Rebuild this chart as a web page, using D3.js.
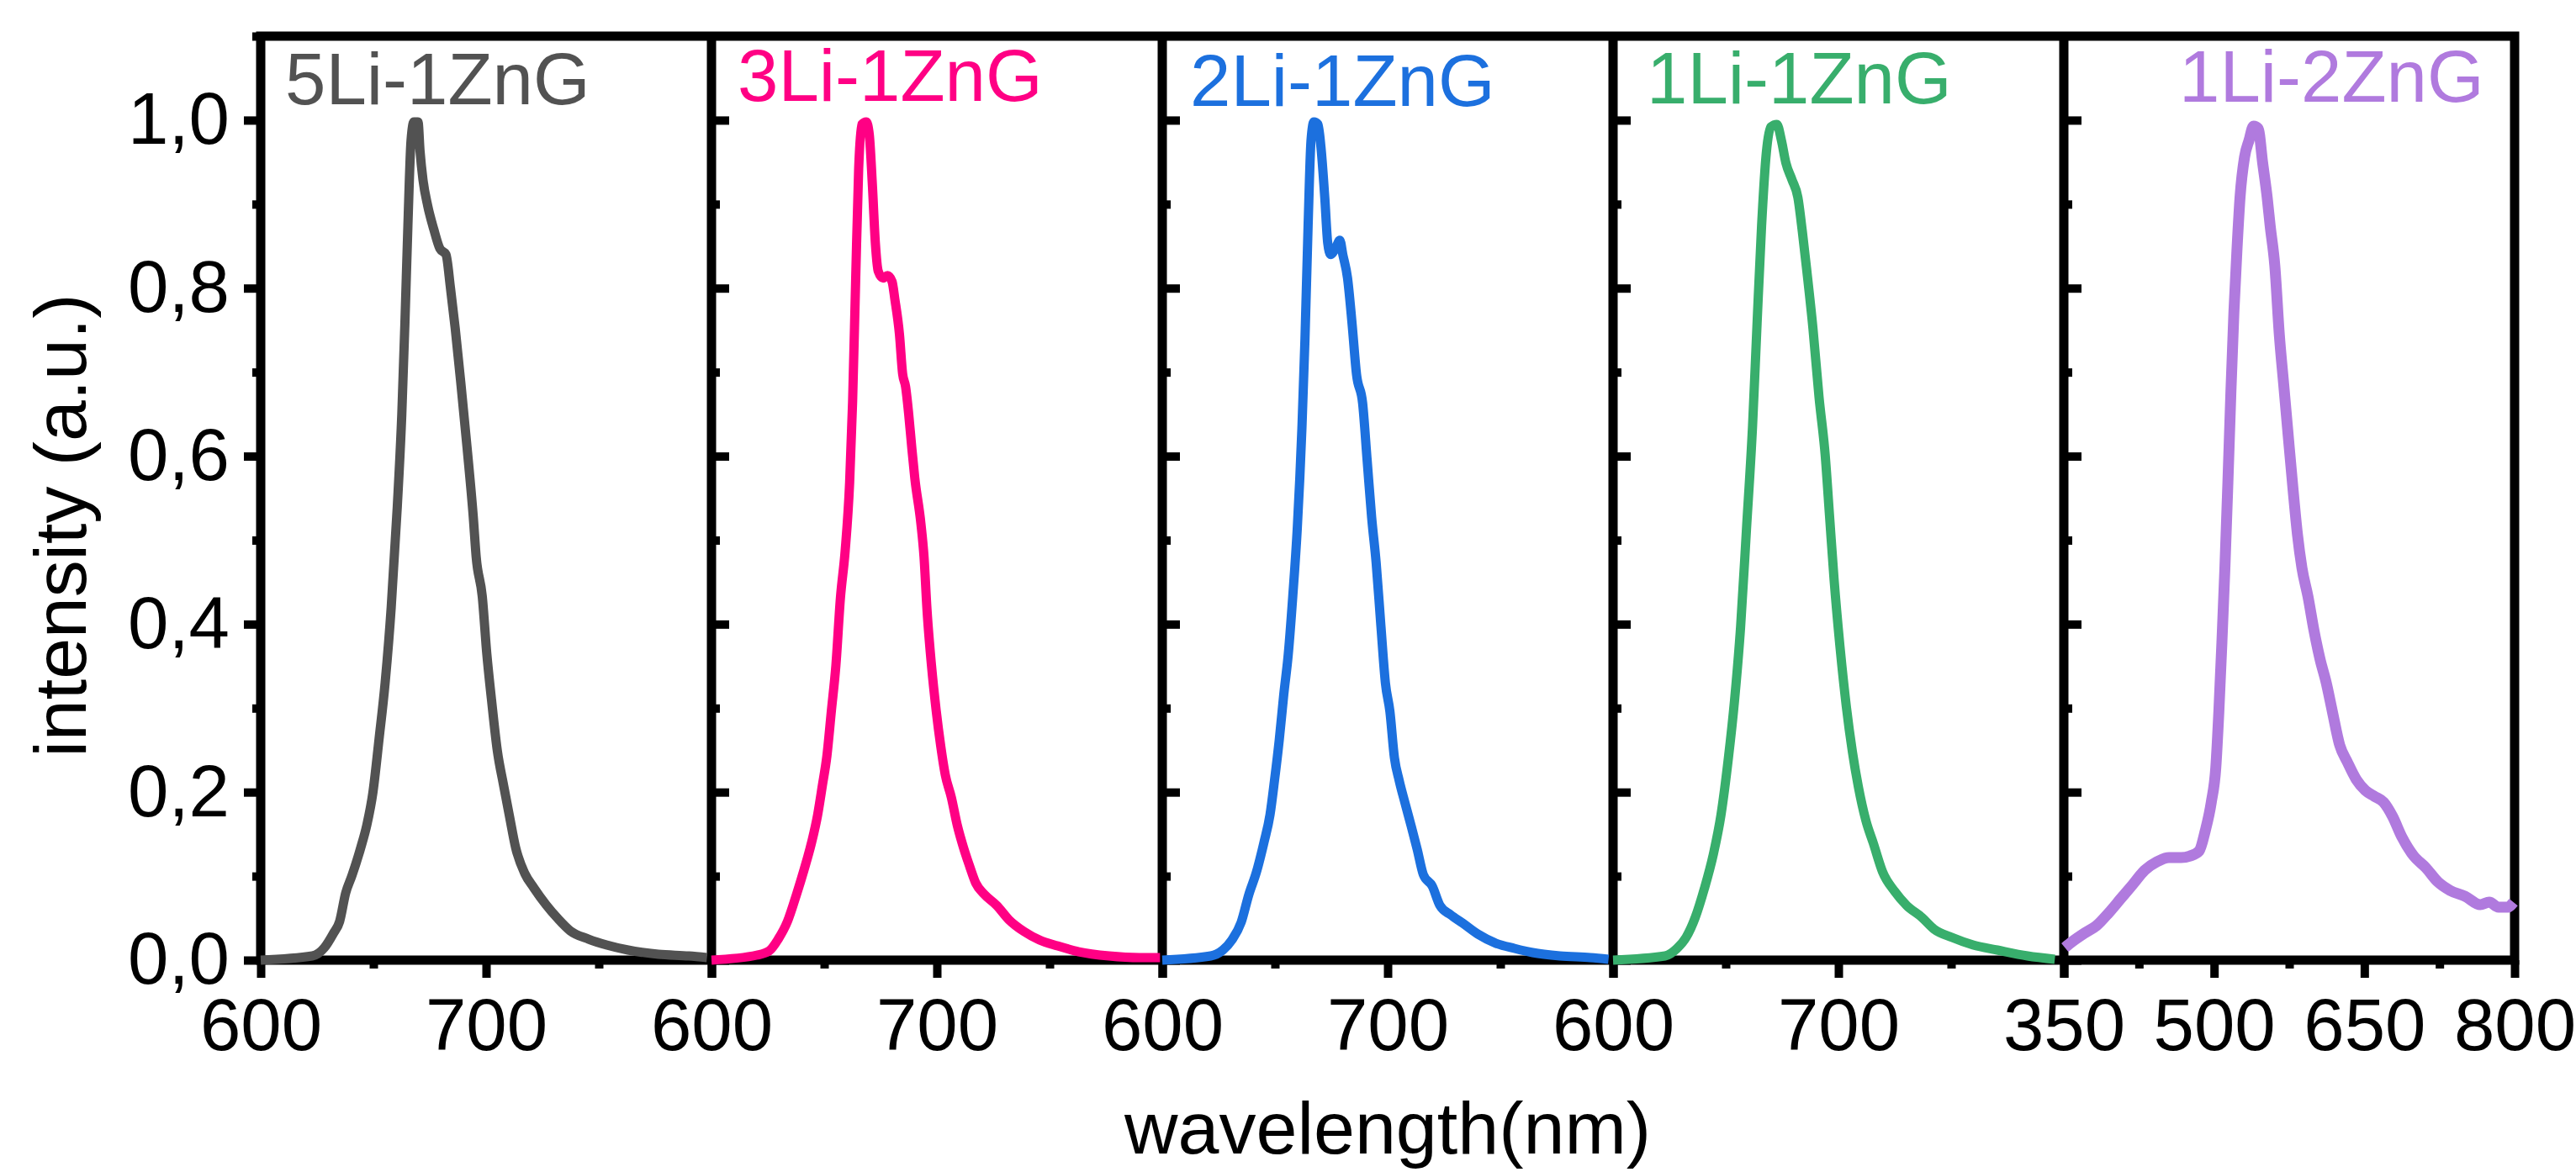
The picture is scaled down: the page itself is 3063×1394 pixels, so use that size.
<!DOCTYPE html>
<html lang="en">
<head>
<meta charset="utf-8">
<title>PL spectra, Li/Zn series</title>
<style>
  body { margin: 0; padding: 0; background: #fff; }
  svg { display: block; }
  text { font-family: "Liberation Sans", Arial, sans-serif; }
</style>
</head>
<body>
<div id="chart"></div>
<script src="https://cdn.jsdelivr.net/npm/d3@7"></script>
<script>
// ---- data (wavelength nm, normalised intensity) ----
var sampleNames = ['5Li-1ZnG', '3Li-1ZnG', '2Li-1ZnG', '1Li-1ZnG', '1Li-2ZnG'];

var s5Li1Zn = [[600,0],[622.9,0.005],[628.3,0.015],[632.3,0.032],[635,0.046],[637.7,0.08],[640.4,0.1],[644.4,0.134],[647.1,0.161],[649.8,0.2],[652.5,0.263],[655.2,0.33],[657.9,0.42],[660.6,0.54],[662.6,0.65],[664,0.76],[665.3,0.874],[666.7,0.976],[668,0.998],[669.8,0.998],[670.7,0.963],[672,0.929],[674.1,0.898],[676.8,0.87],[679.5,0.847],[682.2,0.84],[684.2,0.8],[686.3,0.752],[688.9,0.684],[691.6,0.609],[694.3,0.528],[695.6,0.48],[698.3,0.433],[700.3,0.365],[702.4,0.31],[705,0.249],[707.7,0.209],[710.4,0.171],[713.1,0.134],[717.2,0.103],[721.2,0.086],[726.6,0.066],[732,0.049],[737.3,0.035],[745.5,0.025],[753.5,0.018],[763,0.012],[776.4,0.007],[789.9,0.005],[798,0.003]];

var s3Li1Zn = [[600,0],[620.2,0.006],[625.6,0.011],[629.6,0.025],[633.7,0.046],[637.7,0.078],[641,0.107],[644.4,0.14],[647.1,0.173],[649.2,0.208],[651.2,0.243],[653.2,0.297],[655.2,0.351],[657.2,0.431],[659.3,0.487],[661.3,0.569],[662.6,0.664],[664,0.813],[665.3,0.942],[666.7,0.995],[668.7,0.998],[670,0.983],[671.4,0.922],[672.7,0.854],[674,0.82],[676.1,0.812],[678.1,0.815],[680.1,0.808],[681.4,0.786],[683.4,0.745],[684.8,0.698],[686.1,0.683],[687.5,0.65],[688.9,0.609],[690.2,0.574],[692.9,0.52],[694.3,0.48],[695.6,0.418],[697.6,0.351],[699.7,0.297],[701.7,0.255],[703.7,0.221],[706.4,0.194],[709.1,0.16],[711.8,0.134],[714.5,0.112],[717.2,0.092],[721.2,0.078],[726.6,0.065],[732,0.048],[738.7,0.034],[745.5,0.024],[753.5,0.017],[763,0.01],[776.4,0.005],[789.9,0.003],[799,0.003]];

var s2Li1Zn = [[600,0],[621.5,0.005],[626.9,0.012],[630.9,0.024],[635,0.045],[638.4,0.078],[641.8,0.105],[645.1,0.14],[647.8,0.173],[649.8,0.214],[651.9,0.262],[653.9,0.316],[655.9,0.364],[657.9,0.433],[659.9,0.514],[662,0.636],[663.3,0.738],[664.7,0.874],[666,0.976],[667.3,0.998],[669.1,0.995],[670.4,0.968],[672.1,0.908],[673.4,0.854],[674.7,0.84],[676.8,0.847],[678.8,0.857],[680.1,0.84],[682.2,0.812],[684.2,0.758],[686.2,0.697],[688.9,0.663],[690.9,0.595],[692.9,0.527],[694.9,0.473],[697,0.398],[699,0.33],[701,0.296],[703,0.241],[705.1,0.214],[707.7,0.187],[710.4,0.16],[713.1,0.132],[715.8,0.102],[719.8,0.088],[723.2,0.065],[727.9,0.054],[733.3,0.044],[740,0.031],[748.1,0.02],[756.2,0.014],[764.3,0.009],[776.4,0.005],[789.9,0.003],[798,0.001]];

var s1Li1Zn = [[600,0],[623.1,0.005],[628.4,0.014],[632.4,0.027],[636.5,0.051],[640.5,0.085],[644.5,0.126],[647.9,0.173],[651.2,0.241],[653.9,0.309],[656.6,0.397],[659.2,0.513],[661.9,0.636],[663.9,0.758],[665.9,0.874],[668,0.961],[670,0.992],[672.7,0.995],[674.7,0.976],[676.7,0.949],[679.4,0.929],[682,0.908],[684,0.867],[686,0.82],[688.7,0.752],[691.4,0.67],[694.1,0.602],[696.1,0.527],[698.1,0.452],[700.8,0.37],[703.5,0.302],[706.2,0.248],[708.8,0.207],[712.2,0.166],[715.5,0.139],[719.6,0.105],[724.9,0.082],[730.3,0.065],[737,0.051],[742.4,0.037],[750.4,0.027],[759.8,0.018],[770.5,0.012],[783.9,0.005],[796,0.001]];

var s1Li2Zn = [[351,0.015],[358.4,0.022],[370.5,0.032],[382.6,0.041],[394.6,0.056],[406.7,0.073],[418.8,0.09],[430.8,0.107],[442.9,0.117],[455,0.122],[467,0.122],[476.1,0.124],[485.1,0.13],[491.2,0.154],[497.2,0.188],[501.7,0.229],[504.8,0.297],[507.8,0.378],[510.8,0.467],[513.8,0.569],[516.8,0.677],[519.8,0.772],[522.9,0.847],[525.9,0.908],[530.4,0.956],[534.9,0.976],[539.4,0.993],[544,0.99],[548.5,0.949],[553,0.908],[556,0.874],[560.6,0.827],[565.1,0.745],[569.6,0.684],[574.1,0.623],[578.7,0.562],[583.2,0.507],[587.7,0.467],[593.7,0.433],[599.8,0.392],[605.8,0.358],[611.8,0.331],[617.9,0.297],[625.4,0.256],[633,0.236],[642,0.215],[651.1,0.202],[660.1,0.195],[669.2,0.188],[678.2,0.171],[687.3,0.147],[699.3,0.124],[711.4,0.11],[723.5,0.093],[735.5,0.083],[750.6,0.076],[765.7,0.066],[774.7,0.069],[783.8,0.063],[792.8,0.063],[798.9,0.069]];

var xDomains = [[600, 800], [600, 800], [600, 800], [600, 800], [350, 800]];
var xMajorTicks = [[600, 700, 800], [600, 700, 800], [600, 700, 800], [600, 700, 800], [350, 500, 650, 800]];
var xMinorTicks = [[650, 750], [650, 750], [650, 750], [650, 750], [425, 575, 725]];
var yMajorTicks = [0, 0.2, 0.4, 0.6, 0.8, 1.0];
var yMinorTicks = [0.1, 0.3, 0.5, 0.7, 0.9, 1.1];

// ---- layout / style ----
var series = [s5Li1Zn, s3Li1Zn, s2Li1Zn, s1Li1Zn, s1Li2Zn];
var colors = ['#525252', '#ff0084', '#1c70de', '#38ae6c', '#b07ade'];
var lineWidths = [11, 11, 11, 11, 13];
var labelDx = [29, 31, 33, 40, 137];
var labelY = [124, 120, 126, 123, 121];

var width = 3063, height = 1394;
var frameL = 310, frameR = 2990, frameT = 43, frameB = 1142;
var panelW = (frameR - frameL) / series.length;
var fontSize = 87;

var svg = d3.select('#chart').append('svg')
  .attr('width', width)
  .attr('height', height);

var y = d3.scaleLinear().domain([0, 1.1]).range([frameB, frameT]);
var commaFmt = function(d) { return d3.format('.1f')(d).replace('.', ','); };

function styleAxis(g) {
  g.select('.domain').remove();
  g.selectAll('.tick line').attr('stroke', '#000').attr('stroke-width', 10);
  g.selectAll('.tick text')
    .attr('fill', '#000')
    .style('font-size', fontSize + 'px');
}

// left y axis on the first panel (ticks outward)
svg.append('g')
  .attr('transform', 'translate(' + frameL + ',0)')
  .call(d3.axisLeft(y).tickValues(yMinorTicks).tickSize(10).tickFormat(''))
  .call(styleAxis);
svg.append('g')
  .attr('transform', 'translate(' + frameL + ',0)')
  .call(d3.axisLeft(y).tickValues(yMajorTicks).tickSize(20).tickPadding(17).tickFormat(commaFmt))
  .call(styleAxis);

series.forEach(function(data, i) {
  var x0 = frameL + i * panelW;
  var x = d3.scaleLinear().domain(xDomains[i]).range([x0, x0 + panelW]);
  var lastPanel = i === series.length - 1;

  // inner y ticks for the following panels
  if (i > 0) {
    svg.append('g')
      .attr('transform', 'translate(' + x0 + ',0)')
      .call(d3.axisRight(y).tickValues(yMinorTicks.slice(0, 5)).tickSize(10).tickFormat(''))
      .call(styleAxis);
    svg.append('g')
      .attr('transform', 'translate(' + x0 + ',0)')
      .call(d3.axisRight(y).tickValues(yMajorTicks).tickSize(21).tickFormat(''))
      .call(styleAxis);
  }

  // x axis
  svg.append('g')
    .attr('transform', 'translate(0,' + frameB + ')')
    .call(d3.axisBottom(x).tickValues(xMinorTicks[i]).tickSize(10).tickFormat(''))
    .call(styleAxis);
  svg.append('g')
    .attr('transform', 'translate(0,' + frameB + ')')
    .call(d3.axisBottom(x).tickValues(xMajorTicks[i]).tickSize(21).tickPadding(24)
      .tickFormat(function(d) { return (d === 800 && !lastPanel) ? '' : d; }))
    .call(styleAxis);
});

// frame and panel dividers
svg.append('rect')
  .attr('x', frameL).attr('y', frameT)
  .attr('width', frameR - frameL).attr('height', frameB - frameT)
  .attr('fill', 'none').attr('stroke', '#000').attr('stroke-width', 11);

svg.selectAll('line.divider')
  .data(d3.range(1, series.length))
  .enter().append('line')
  .attr('class', 'divider')
  .attr('x1', function(d) { return frameL + d * panelW; })
  .attr('x2', function(d) { return frameL + d * panelW; })
  .attr('y1', frameT).attr('y2', frameB)
  .attr('stroke', '#000').attr('stroke-width', 11);

// spectra on top
series.forEach(function(data, i) {
  var x0 = frameL + i * panelW;
  var x = d3.scaleLinear().domain(xDomains[i]).range([x0, x0 + panelW]);
  var line = d3.line()
    .x(function(d) { return x(d[0]); })
    .y(function(d) { return y(d[1]); })
    .curve(d3.curveMonotoneX);

  svg.append('path')
    .datum(data)
    .attr('d', line)
    .attr('fill', 'none')
    .attr('stroke', colors[i])
    .attr('stroke-width', lineWidths[i])
    .attr('stroke-linejoin', 'round');

  svg.append('text')
    .attr('x', x0 + labelDx[i])
    .attr('y', labelY[i])
    .attr('fill', colors[i])
    .style('font-size', fontSize + 'px')
    .text(sampleNames[i]);
});

// axis titles
svg.append('text')
  .attr('transform', 'translate(102,625) rotate(-90)')
  .attr('text-anchor', 'middle')
  .attr('textLength', 551)
  .attr('lengthAdjust', 'spacingAndGlyphs')
  .style('font-size', '88px')
  .text('intensity (a.u.)');

svg.append('text')
  .attr('x', (frameL + frameR) / 2)
  .attr('y', 1372)
  .attr('text-anchor', 'middle')
  .style('font-size', '88px')
  .text('wavelength(nm)');
</script>
</body>
</html>
